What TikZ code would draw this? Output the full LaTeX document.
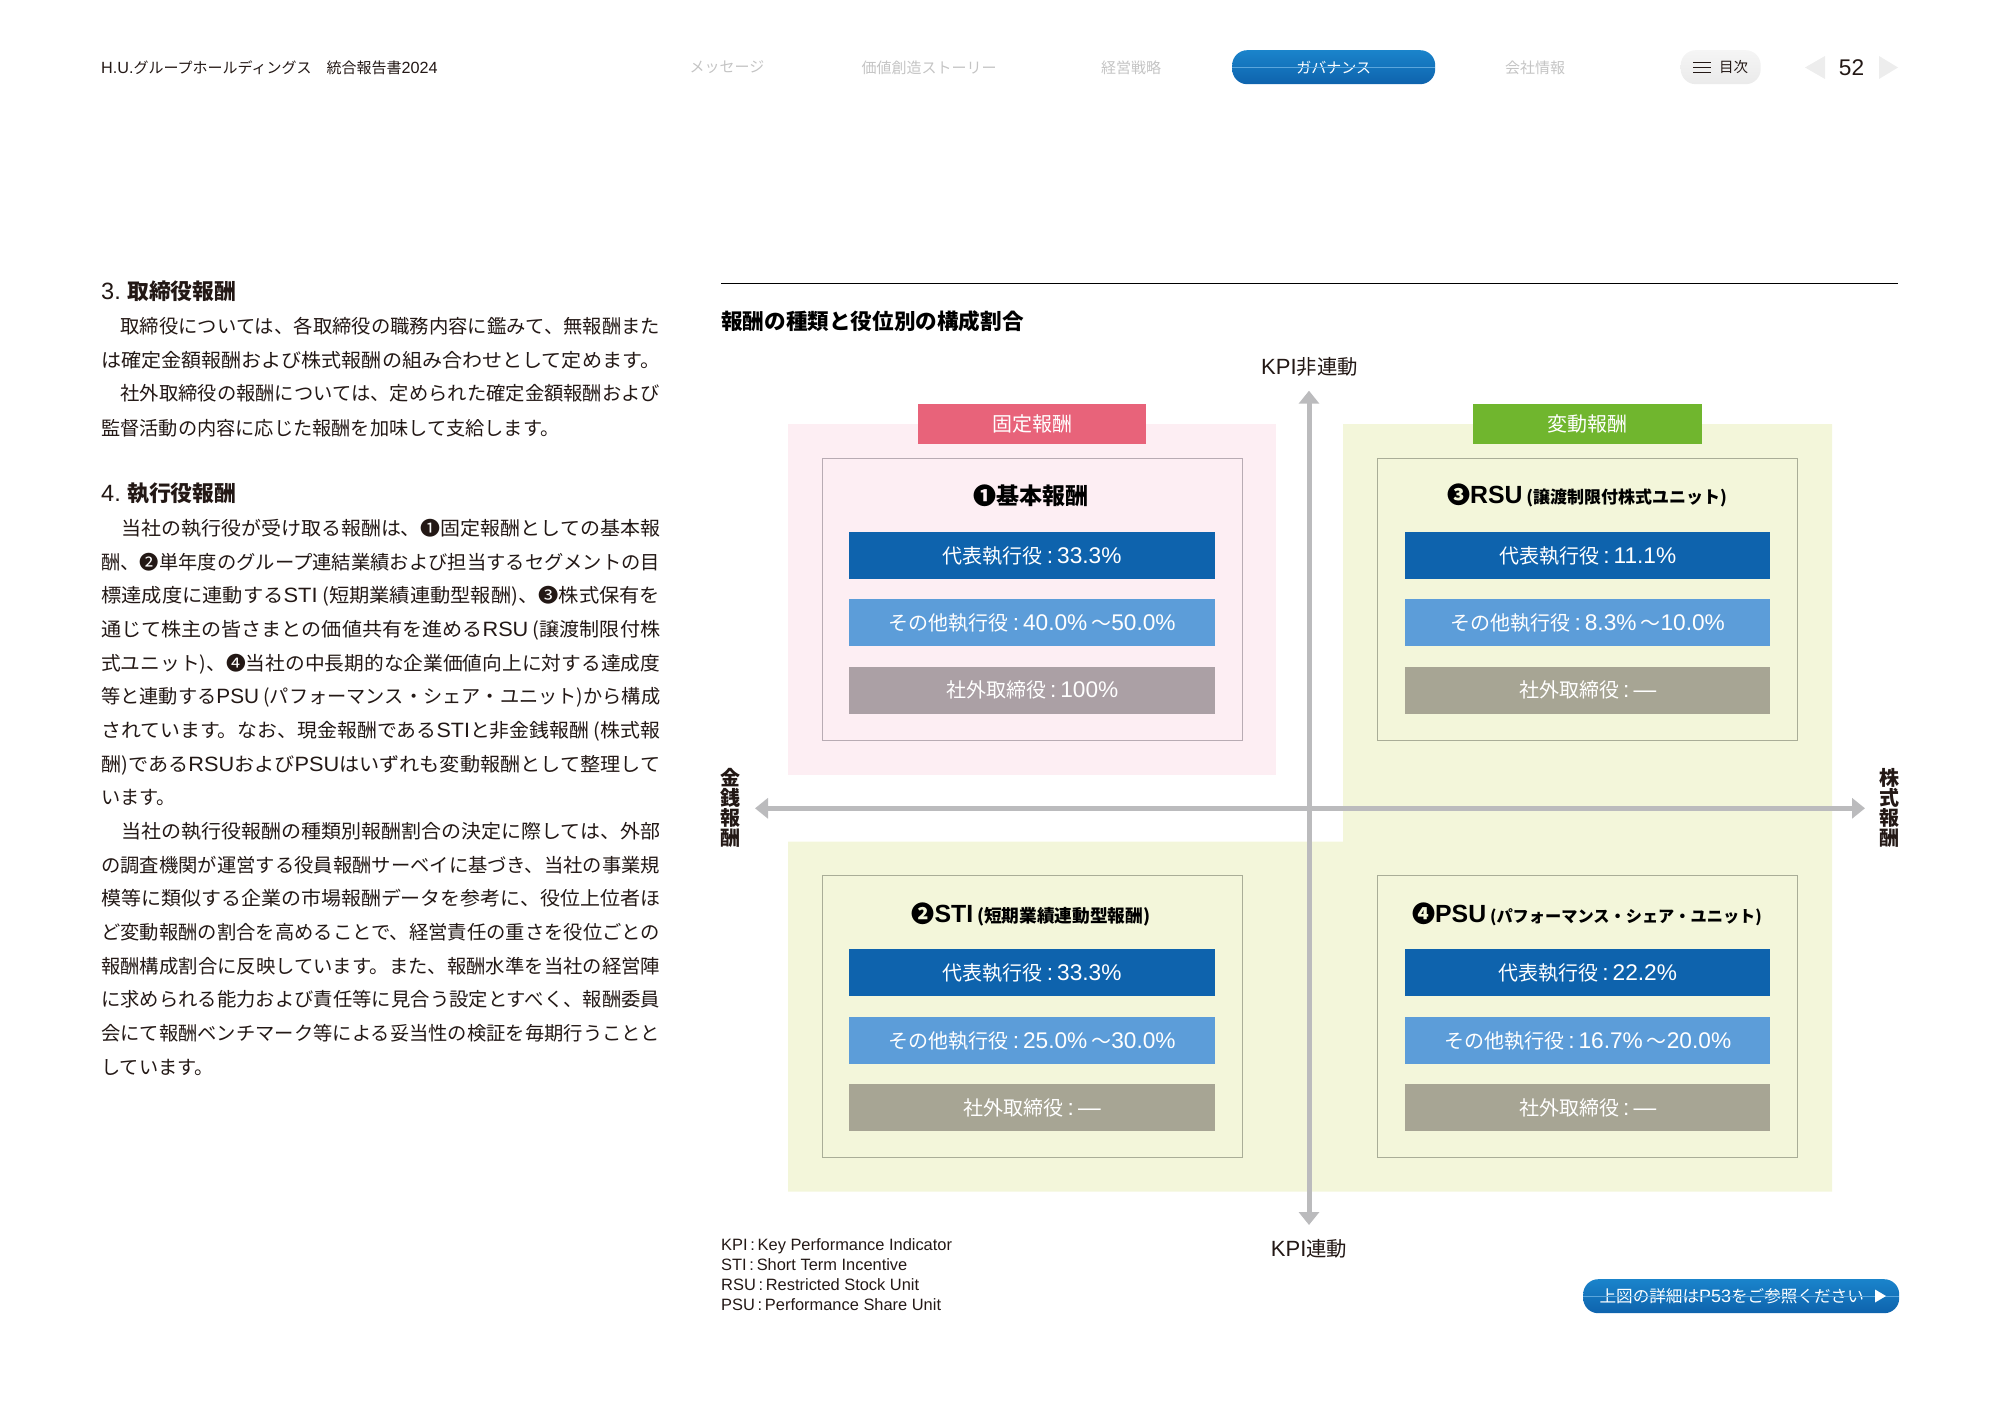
\documentclass[tikz,border=0pt]{standalone}
\usepackage{fontspec}
\usepackage{graphicx}
\usetikzlibrary{arrows.meta}
\setmainfont{Noto Sans CJK JP}
\newfontfamily\latfont[Scale=1.08]{Liberation Sans}
\newcommand\lat[1]{{\latfont #1}}
\newcommand\fs[1]{\fontsize{#1}{#1}\selectfont}
\newcommand\wave{\hspace{4pt}{\normalfont\fs{20}～}}
\newcommand\rolevalue[1]{{\latfont\fs{21}\hspace{4pt}:\hspace{4pt}#1}}
\newcommand\fitline[1]{\resizebox{559pt}{\height}{#1}}
\definecolor{inkblack}{HTML}{231815}
\definecolor{navgrey}{HTML}{C4C4C4}
\definecolor{pinkback}{HTML}{FDEEF3}
\definecolor{greenback}{HTML}{F3F6DA}
\definecolor{pinkframe}{HTML}{B8ABB3}
\definecolor{greenframe}{HTML}{A9AD97}
\definecolor{pinktab}{HTML}{E8637A}
\definecolor{greentab}{HTML}{70B62E}
\definecolor{ceoblue}{HTML}{0E63AD}
\definecolor{execblue}{HTML}{5C9DD9}
\definecolor{outmauve}{HTML}{ABA0A5}
\definecolor{outkhaki}{HTML}{A7A594}
\definecolor{axisgrey}{HTML}{BBBBBD}
\definecolor{pilltop}{HTML}{1A84CB}
\definecolor{pillline}{HTML}{5BA6DC}
\tikzset{
  bodyline/.style={anchor=west, inner sep=0, text height=15pt, text depth=1pt, text=inkblack, font=\fs{19.2}},
  bodyhead/.style={anchor=west, inner sep=0, text=inkblack, font=\fs{21.8}},
  navitem/.style={inner sep=0, text=navgrey, font=\fs{15}},
  pillblue/.style={anchor=north west, inner sep=0, rounded corners=15pt, top color=pilltop, bottom color=ceoblue, text=white},
  tabbox/.style={anchor=north west, inner sep=0, minimum height=40pt, text=white, font=\fs{20}},
  panelframe/.style={anchor=north west, inner sep=0, minimum width=420pt, minimum height=282pt, line width=1pt},
  panelhead/.style={inner sep=0, text=black, font=\bfseries\fs{23}},
  rolebar/.style={anchor=north west, inner sep=0, minimum height=47pt, text=white, font=\fs{20}},
  barceo/.style={rolebar, fill=ceoblue},
  barexec/.style={rolebar, fill=execblue},
  barout/.style={rolebar, fill=outkhaki},
  axisline/.style={draw=axisgrey, line width=5pt, {Triangle[width=20pt,length=13pt]}-{Triangle[width=20pt,length=13pt]}},
  axislabel/.style={inner sep=0, text=inkblack, font=\fs{20.4}},
  sidelabel/.style={inner sep=0, align=center, text=inkblack, font=\bfseries\fontsize{20}{20}\selectfont}
}
\begin{document}
\begin{tikzpicture}[x=1pt, y=-1pt]
  \useasboundingbox (0,0) rectangle (2000,1415);
  \node[anchor=west, inner sep=0, text=inkblack, font=\fs{15}] (doctitle) at (101,67.5) {\lat{H.U.}グループホールディングス　統合報告書\lat{2024}};
  \node[navitem] (navmsg) at (727,67.5) {メッセージ};
  \node[navitem] (navvalue) at (929,67.5) {価値創造ストーリー};
  \node[navitem] (navstrategy) at (1131,67.5) {経営戦略};
  \node[pillblue, minimum width=203pt, minimum height=34pt, font=\fs{15}] (navgov) at (1232,50) {ガバナンス};
  \draw[pillline, line width=0.7pt] (navgov.west) -- (navgov.east);
  \node[navitem] (navcompany) at (1535,67.5) {会社情報};
  \node[anchor=north west, inner sep=0, rounded corners=15pt, minimum width=80pt, minimum height=34pt, top color=black!4, bottom color=black!8] (tocpill) at (1680.5,50) {};
  \node[anchor=west, inner sep=0, text=inkblack, font=\fs{14.5}] (toctext) at (1719,67.5) {目次};
  \draw[inkblack, line width=1pt] (1693,62.5) -- (1710.5,62.5) (1693,67.5) -- (1710.5,67.5) (1693,72.5) -- (1710.5,72.5);
  \fill[black!7] (1805,67.5) -- (1825,56) -- (1825,79) -- cycle;
  \fill[black!7] (1898,67.5) -- (1879,56) -- (1879,79) -- cycle;
  \node[inner sep=0, text=inkblack, font=\latfont\fs{21}] (pageno) at (1851.5,67.5) {52};

  \node[bodyhead] (headthree) at (101,291.7) {\lat{3.} \bfseries 取締役報酬};
  \node[bodyline] (lineA) at (101,326.7) {\fitline{　取締役については、各取締役の職務内容に鑑みて、無報酬また}};
  \node[bodyline] (lineB) at (101,360) {\fitline{は確定金額報酬および株式報酬の組み合わせとして定めます。}};
  \node[bodyline] (lineC) at (101,393.3) {\fitline{　社外取締役の報酬については、定められた確定金額報酬および}};
  \node[bodyline] (lineD) at (101,428.3) {監督活動の内容に応じた報酬を加味して支給します。};
  \node[bodyhead] (headfour) at (101,493.3) {\lat{4.} \bfseries 執行役報酬};
  \node[bodyline] (line0) at (101,528.3) {\fitline{　当社の執行役が受け取る報酬は、❶固定報酬としての基本報}};
  \node[bodyline] (line1) at (101,562) {\fitline{酬、❷単年度のグループ連結業績および担当するセグメントの目}};
  \node[bodyline] (line2) at (101,595.7) {\fitline{標達成度に連動する\lat{STI} (短期業績連動型報酬)、❸株式保有を}};
  \node[bodyline] (line3) at (101,629.3) {\fitline{通じて株主の皆さまとの価値共有を進める\lat{RSU} (譲渡制限付株}};
  \node[bodyline] (line4) at (101,663) {\fitline{式ユニット)、❹当社の中長期的な企業価値向上に対する達成度}};
  \node[bodyline] (line5) at (101,696.7) {\fitline{等と連動する\lat{PSU} (パフォーマンス・シェア・ユニット)から構成}};
  \node[bodyline] (line6) at (101,730.3) {\fitline{されています。なお、現金報酬である\lat{STI}と非金銭報酬 (株式報}};
  \node[bodyline] (line7) at (101,764) {\fitline{酬)である\lat{RSU}および\lat{PSU}はいずれも変動報酬として整理して}};
  \node[bodyline] (line8) at (101,797.7) {います。};
  \node[bodyline] (line9) at (101,831.3) {\fitline{　当社の執行役報酬の種類別報酬割合の決定に際しては、外部}};
  \node[bodyline] (line10) at (101,865) {\fitline{の調査機関が運営する役員報酬サーベイに基づき、当社の事業規}};
  \node[bodyline] (line11) at (101,898.7) {\fitline{模等に類似する企業の市場報酬データを参考に、役位上位者ほ}};
  \node[bodyline] (line12) at (101,932.3) {\fitline{ど変動報酬の割合を高めることで、経営責任の重さを役位ごとの}};
  \node[bodyline] (line13) at (101,966) {\fitline{報酬構成割合に反映しています。また、報酬水準を当社の経営陣}};
  \node[bodyline] (line14) at (101,999.7) {\fitline{に求められる能力および責任等に見合う設定とすべく、報酬委員}};
  \node[bodyline] (line15) at (101,1033.3) {\fitline{会にて報酬ベンチマーク等による妥当性の検証を毎期行うことと}};
  \node[bodyline] (line16) at (101,1067) {しています。};

  \coordinate (ruleleft) at (721,283.3);
  \coordinate (ruleright) at (1898,283.3);
  \draw[black, line width=1pt] (ruleleft) -- (ruleright);
  \node[anchor=west, inner sep=0, text=black, font=\bfseries\fs{21.6}] (charttitle) at (721,321.7) {報酬の種類と役位別の構成割合};

  \fill[pinkback] (787.5,424) rectangle (1276,775);
  \fill[greenback] (1343,424) -- (1832,424) -- (1832,1191.7) -- (788,1191.7) -- (788,841.7) -- (1343,841.7) -- cycle;

  \coordinate (axisn) at (1309,390.7);
  \coordinate (axiss) at (1309,1225);
  \coordinate (axisw) at (755,808.3);
  \coordinate (axise) at (1865,808.3);
  \draw[axisline] (axisn) -- (axiss);
  \draw[axisline] (axisw) -- (axise);
  \node[axislabel] (kpifree) at (1309.5,366.7) {\lat{KPI}非連動};
  \node[axislabel] (kpilinked) at (1309,1249) {\lat{KPI}連動};
  \node[sidelabel] (sidecash) at (730,808) {金\\銭\\報\\酬};
  \node[sidelabel] (sidestock) at (1889,808) {株\\式\\報\\酬};

  \node[tabbox, minimum width=228pt, fill=pinktab] (fixedtab) at (918,404) {固定報酬};
  \node[tabbox, minimum width=229pt, fill=greentab] (varytab) at (1473,404) {変動報酬};

  \node[panelframe, draw=pinkframe] (baseframe) at (822,458.3) {};
  \node[panelhead] (basehead) at (1031,495.7) {❶基本報酬};
  \node[barceo, minimum width=366pt] (baseceo) at (849,532) {代表執行役\rolevalue{33.3\%}};
  \node[barexec, minimum width=366pt] (baseexec) at (849,599) {その他執行役\rolevalue{40.0\%\wave 50.0\%}};
  \node[rolebar, minimum width=366pt, fill=outmauve] (baseout) at (849,666.7) {社外取締役\rolevalue{100\%}};

  \node[panelframe, draw=greenframe] (rsuframe) at (1377,458.3) {};
  \node[panelhead] (rsuhead) at (1587,495.7) {❸\lat{RSU}\,{\fs{17}(譲渡制限付株式ユニット)}};
  \node[barceo, minimum width=365pt] (rsuceo) at (1405,532) {代表執行役\rolevalue{11.1\%}};
  \node[barexec, minimum width=365pt] (rsuexec) at (1405,599) {その他執行役\rolevalue{8.3\%\wave 10.0\%}};
  \node[barout, minimum width=365pt] (rsuout) at (1405,666.7) {社外取締役\rolevalue{―}};

  \node[panelframe, draw=greenframe] (stiframe) at (822,875) {};
  \node[panelhead] (stihead) at (1031,914) {❷\lat{STI}\,{\fs{17.7}(短期業績連動型報酬)}};
  \node[barceo, minimum width=366pt] (sticeo) at (849,949) {代表執行役\rolevalue{33.3\%}};
  \node[barexec, minimum width=366pt] (stiexec) at (849,1017) {その他執行役\rolevalue{25.0\%\wave 30.0\%}};
  \node[barout, minimum width=366pt] (stiout) at (849,1084) {社外取締役\rolevalue{―}};

  \node[panelframe, draw=greenframe] (psuframe) at (1377,875) {};
  \node[panelhead] (psuhead) at (1587,914) {❹\lat{PSU}\,{\fs{16.2}(パフォーマンス・シェア・ユニット)}};
  \node[barceo, minimum width=365pt] (psuceo) at (1405,949) {代表執行役\rolevalue{22.2\%}};
  \node[barexec, minimum width=365pt] (psuexec) at (1405,1017) {その他執行役\rolevalue{16.7\%\wave 20.0\%}};
  \node[barout, minimum width=365pt] (psuout) at (1405,1084) {社外取締役\rolevalue{―}};

  \node[anchor=west, inner sep=0, align=left, text=inkblack, font=\latfont\fontsize{15.2}{20}\selectfont] (legend) at (721,1275) {KPI\,:\,Key Performance Indicator\\STI\,:\,Short Term Incentive\\RSU\,:\,Restricted Stock Unit\\PSU\,:\,Performance Share Unit};

  \node[pillblue, minimum width=316pt, minimum height=34pt, font=\fs{16.6}] (seemore) at (1583,1279) {\hspace{-19pt}上図の詳細は\lat{P53}をご参照ください};
  \draw[pillline, line width=0.7pt] (seemore.west) -- (seemore.east);
  \fill[white] (1875,1289.5) -- (1886,1296) -- (1875,1302.5) -- cycle;
\end{tikzpicture}
\end{document}
